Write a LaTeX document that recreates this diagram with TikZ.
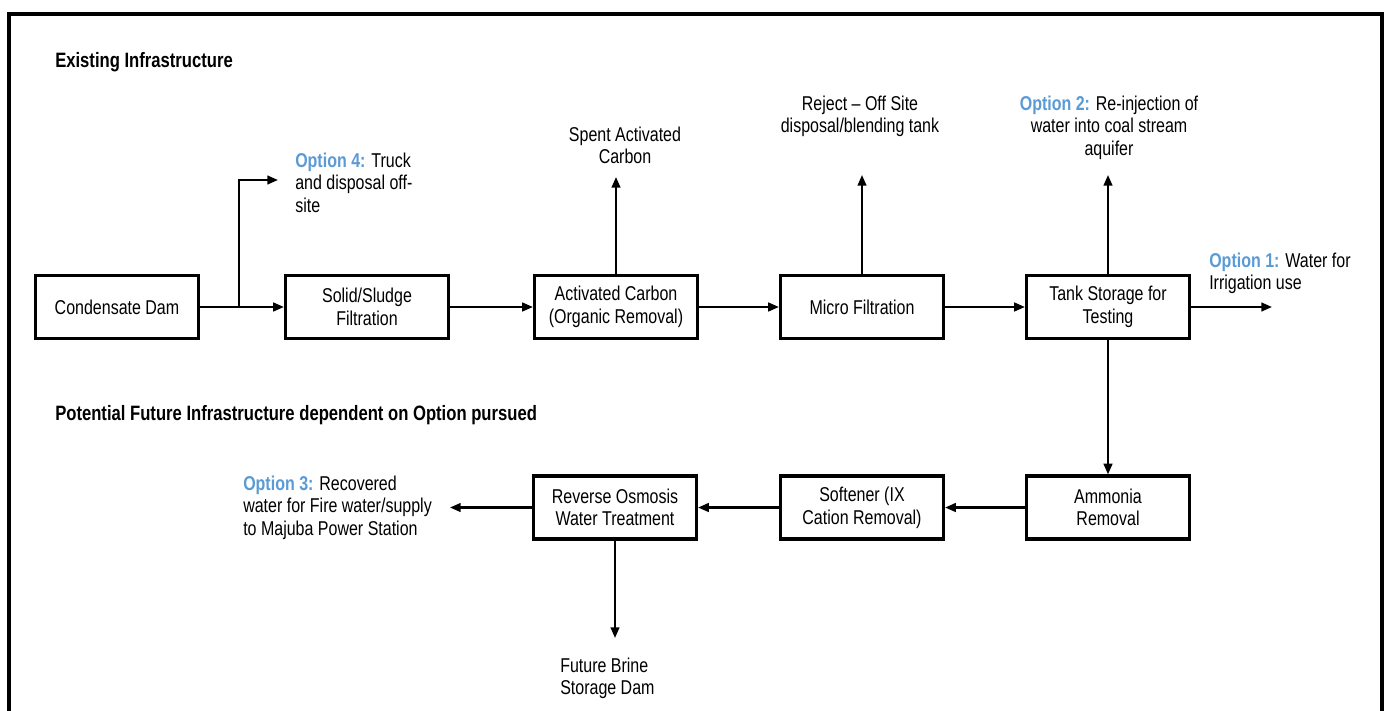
\documentclass[tikz,border=0pt]{standalone}
\usepackage{fontspec}
\setmainfont{Liberation Sans}[FakeStretch=0.8]
\usetikzlibrary{arrows.meta}
\definecolor{optblue}{HTML}{5B9BD5}
\newcommand{\dgfont}{\fontsize{15pt}{17pt}\selectfont}
\newcommand{\opt}[1]{\textcolor{optblue}{\bfseries Option #1:}}
\begin{document}
\begin{tikzpicture}[x=0.75pt,y=-0.75pt,
  box/.style={draw, line width=2.4pt, minimum width=122.25pt, minimum height=47.25pt, align=center, inner sep=2pt, font=\dgfont},
  lbl/.style={inner sep=0pt, font=\dgfont},
  ttl/.style={inner sep=0pt, font=\fontsize{15.6pt}{18pt}\selectfont\bfseries},
  ln/.style={line width=1.6pt},
  arr/.style={line width=1.6pt, -{Triangle[length=8pt,width=6.5pt]}}]
\useasboundingbox (0,0) rectangle (1384,710);
\fill[white] (0,0) rectangle (1384,710);
% frame
\draw[line width=3pt] (9,720) -- (9,14) -- (1382,14) -- (1382,720);
% titles
\node[ttl, anchor=west] (t1) at (55,62) {Existing Infrastructure};
\node[ttl, anchor=west] (t2) at (55,415) {Potential Future Infrastructure dependent on Option pursued};
% boxes row 1
\node[box] (cd) at (117,307) {Condensate Dam};
\node[box] (ss) at (367,307) {Solid/Sludge\\Filtration};
\node[box] (ac) at (616,307) {Activated Carbon\\(Organic Removal)};
\node[box] (mf) at (862,307) {Micro Filtration};
\node[box] (ts) at (1108,307) {Tank Storage for\\Testing};
% boxes row 2
\node[box] (am) at (1108,507.5) {Ammonia\\Removal};
\node[box] (sf) at (862,507.5) {Softener (IX\\Cation Removal)};
\node[box] (ro) at (615,507.5) {Reverse Osmosis\\Water Treatment};
% labels
\node[lbl, anchor=north west, align=left] (l4) at (295,152.5) {\opt{4} Truck\\and disposal off-\\site};
\node[lbl, anchor=north, align=center] (lsp) at (625,126.5) {Spent Activated\\Carbon};
\node[lbl, anchor=north, align=center] (lrj) at (860,95.5) {Reject -- Off Site\\disposal/blending tank};
\node[lbl, anchor=north, align=center] (l2) at (1109,95.5) {\opt{2} Re-injection of\\water into coal stream\\aquifer};
\node[lbl, anchor=north west, align=left] (l1) at (1209,252.5) {\opt{1} Water for\\Irrigation use};
\node[lbl, anchor=north west, align=left] (l3) at (243,475.5) {\opt{3} Recovered\\water for Fire water/supply\\to Majuba Power Station};
\node[lbl, anchor=north west, align=left] (lb) at (560,657.5) {Future Brine\\Storage Dam};
% free ends
\coordinate (br) at (239,307);
\coordinate (e4) at (278,180);
\coordinate (esp) at (ac.north |- 0,177);
\coordinate (erj) at (mf.north |- 0,175);
\coordinate (e2) at (ts.north |- 0,175);
\coordinate (e1) at (1272,307);
\coordinate (e3) at (450,507.5);
\coordinate (eb) at (ro.south |- 0,638);
% connectors
\draw[arr] (cd) -- (ss);
\draw[arr] (br) |- (e4);
\draw[arr] (ss) -- (ac);
\draw[arr] (ac) -- (mf);
\draw[arr] (mf) -- (ts);
\draw[arr] (ac.north) -- (esp);
\draw[arr] (mf.north) -- (erj);
\draw[arr] (ts.north) -- (e2);
\draw[arr] (ts.east) -- (e1);
\draw[arr] (ts) -- (am);
\draw[arr] (am) -- (sf);
\draw[arr] (sf) -- (ro);
\draw[arr] (ro.west) -- (e3);
\draw[arr] (ro.south) -- (eb);
\end{tikzpicture}
\end{document}
